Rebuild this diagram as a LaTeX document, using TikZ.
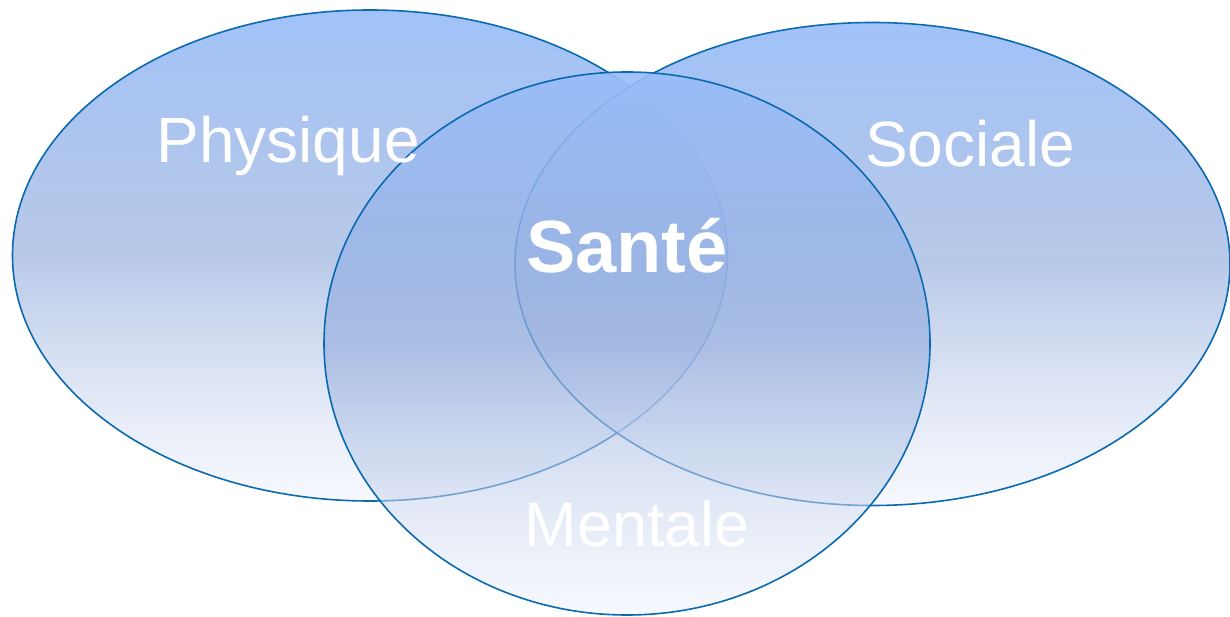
\documentclass[tikz,border=0pt]{standalone}
\usepackage{fontspec}
\setmainfont{Liberation Sans}
\usetikzlibrary{shapes.geometric,fadings}
\definecolor{vtop}{RGB}{152,189,248}
\definecolor{vmid}{RGB}{152,176,222}
\definecolor{vbot}{RGB}{236,240,250}
\definecolor{vline}{RGB}{10,105,175}
\pgfdeclareverticalshading{venn}{100bp}{color(0bp)=(vbot); color(25bp)=(vbot); color(50bp)=(vmid); color(75bp)=(vtop); color(100bp)=(vtop)}
\tikzfading[name=vfade, top color=transparent!8, bottom color=transparent!55]
\tikzset{
  setfill/.style={ellipse, inner sep=0pt, outer sep=0pt, shading=venn, path fading=vfade},
  setline/.style={draw=vline, line width=1.6pt},
  lbl/.style={anchor=base, text=white, inner sep=0pt, font=\fontsize{64}{64}\selectfont},
}
\begin{document}
\begin{tikzpicture}[x=1pt,y=1pt]
\useasboundingbox (0,0) rectangle (1230,616);
\node[setfill, minimum width=715pt, minimum height=491pt] (phys) at (370,360.5) {};
\draw[setline] (phys.center) ellipse [x radius=357.5pt, y radius=245.5pt];
\node[setfill, minimum width=715pt, minimum height=483pt] (soc) at (872.5,352) {};
\draw[setline] (soc.center) ellipse [x radius=357.5pt, y radius=241.5pt];
\node[setfill, minimum width=606pt, minimum height=543pt] (ment) at (627,272.5) {};
\draw[setline] (ment.center) ellipse [x radius=303pt, y radius=271.5pt];
% labels
\node[lbl] (physL) at (288,453) {Physique};
\node[lbl] (socL) at (970,449) {Sociale};
\node[lbl, font=\fontsize{74}{74}\selectfont\bfseries] (sante) at (627,343) {Santé};
\node[lbl, font=\fontsize{63}{63}\selectfont] (mentL) at (637,70) {Mentale};
\end{tikzpicture}
\end{document}
